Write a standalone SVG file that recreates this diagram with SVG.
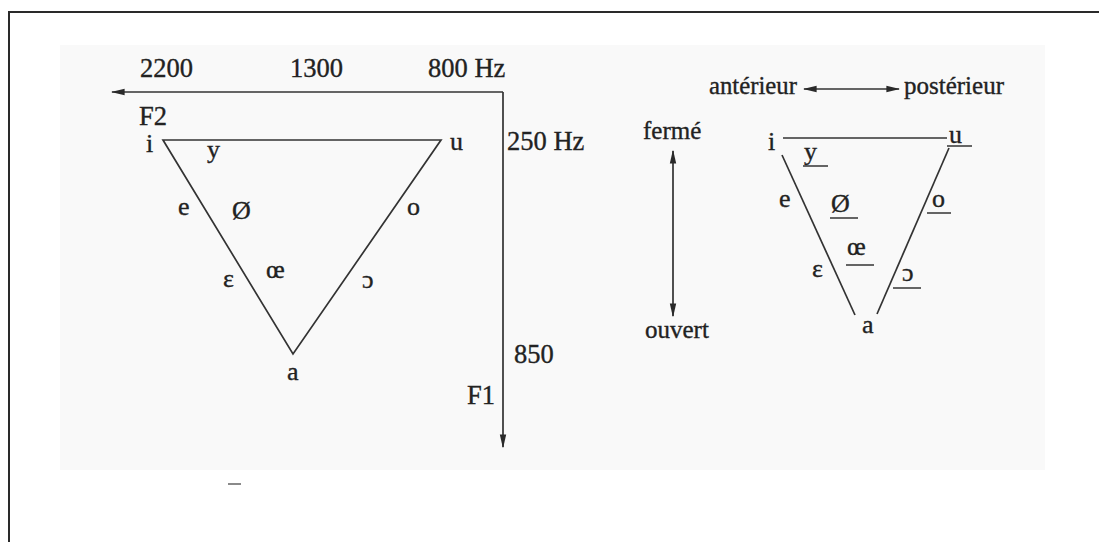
<svg xmlns="http://www.w3.org/2000/svg" width="1099" height="548" viewBox="0 0 1099 548">
<style>
  text { font-family: "Liberation Serif", "Times New Roman", serif; font-size: 25px; fill: #222; stroke: #222; stroke-width: 0.35; }
  .num { font-size: 26.5px; }
  .v { font-size: 26px; }
  .ln { stroke: #333; stroke-width: 1.7; fill: none; }
  .ul { stroke: #333; stroke-width: 1.5; }
  .frame { stroke: #2a2a2a; stroke-width: 2; fill: none; }
</style>
<defs>
  <marker id="ahb" viewBox="0 0 10 10" refX="9" refY="5" markerWidth="14" markerHeight="8" markerUnits="userSpaceOnUse" orient="auto-start-reverse" preserveAspectRatio="none">
    <path d="M0,1 L10,5 L0,9 z" fill="#2a2a2a"/>
  </marker>
</defs>
<rect x="0" y="0" width="1099" height="548" fill="#ffffff"/>
<rect x="60" y="45" width="985" height="425" fill="#f9f9f9"/>
<path class="frame" d="M1099,12 H9 V542"/>

<g id="connectors">
  <path class="ln" d="M503,92 H112" marker-end="url(#ahb)"/>
  <path class="ln" d="M503,92 V447" marker-end="url(#ahb)"/>
  <path class="ln" d="M804,89 H899" marker-start="url(#ahb)" marker-end="url(#ahb)"/>
  <path class="ln" d="M673,151 V316" marker-start="url(#ahb)" marker-end="url(#ahb)"/>
  <path class="ln" d="M163,140 H441 L293,354 Z"/>
  <path class="ln" d="M783,138 H947"/>
  <path class="ln" d="M782,155 L855,315"/>
  <path class="ln" d="M949,148 L877,314"/>
</g>

<g id="axis-labels">
  <text class="num" x="140" y="77">2200</text>
  <text class="num" x="290" y="77">1300</text>
  <text class="num" x="428" y="77">800 Hz</text>
  <text class="num" x="139" y="125">F2</text>
  <text class="num" x="507" y="150">250 Hz</text>
  <text class="num" x="514" y="363">850</text>
  <text class="num" x="467" y="404">F1</text>
</g>

<g id="left-vowels">
  <text class="v" x="146" y="152">i</text>
  <text class="v" x="450" y="150">u</text>
  <text class="v" x="207" y="158">y</text>
  <text class="v" x="178" y="215">e</text>
  <text class="v" x="232" y="219">Ø</text>
  <text class="v" x="407" y="215">o</text>
  <text class="v" x="223" y="287">ε</text>
  <text class="v" x="266" y="278">œ</text>
  <text class="v" x="362" y="288">ɔ</text>
  <text class="v" x="287" y="380">a</text>
</g>

<g id="right-labels">
  <text x="709" y="94" textLength="88" lengthAdjust="spacingAndGlyphs">antérieur</text>
  <text x="904" y="94">postérieur</text>
  <text x="643" y="139">fermé</text>
  <text x="645" y="338">ouvert</text>
</g>

<g id="right-vowels">
  <text class="v" x="768" y="150">i</text>
  <text class="v" x="949" y="143">u</text>
  <line class="ul" x1="947" y1="146" x2="972" y2="146"/>
  <text class="v" x="804" y="160">y</text>
  <line class="ul" x1="803" y1="166" x2="828" y2="166"/>
  <text class="v" x="779" y="207">e</text>
  <text class="v" x="831" y="212">Ø</text>
  <line class="ul" x1="830" y1="218" x2="858" y2="218"/>
  <text class="v" x="932" y="207">o</text>
  <line class="ul" x1="927" y1="213" x2="951" y2="213"/>
  <text class="v" x="812" y="277">ε</text>
  <text class="v" x="847" y="255">œ</text>
  <line class="ul" x1="846" y1="265" x2="874" y2="265"/>
  <text class="v" x="902" y="281">ɔ</text>
  <line class="ul" x1="893" y1="288" x2="921" y2="288"/>
  <text class="v" x="862" y="333">a</text>
</g>

<g id="mark">
  <line x1="228" y1="484" x2="241" y2="484" stroke="#8a8a8a" stroke-width="2"/>
</g>
</svg>
